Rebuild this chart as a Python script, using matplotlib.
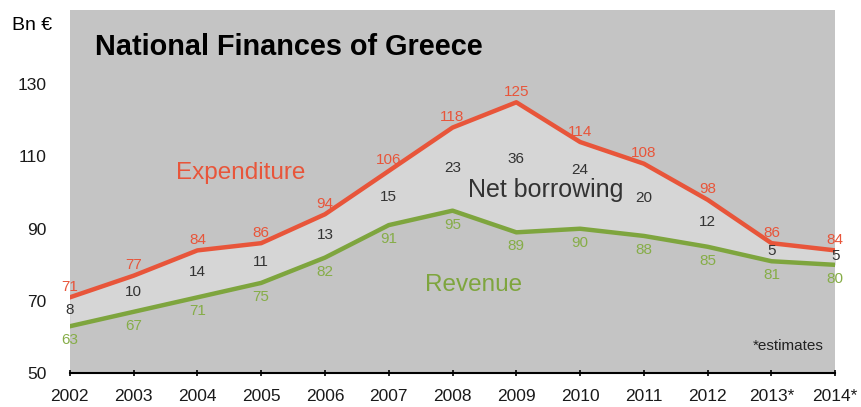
import matplotlib
matplotlib.use("Agg")
import matplotlib.pyplot as plt

plt.rcParams['font.family'] = ['Liberation Sans', 'DejaVu Sans']

years = ['2002', '2003', '2004', '2005', '2006', '2007', '2008',
         '2009', '2010', '2011', '2012', '2013*', '2014*']
expenditure = [71, 77, 84, 86, 94, 106, 118, 125, 114, 108, 98, 86, 84]
revenue = [63, 67, 71, 75, 82, 91, 95, 89, 90, 88, 85, 81, 80]
net_borrowing = [8, 10, 14, 11, 13, 15, 23, 36, 24, 20, 12, 5, 5]
y_ticks = [50, 70, 90, 110, 130]

RED = '#e8553a'
GREEN = '#7ea53e'
GREEN_TXT = '#86ad48'
BG = '#c4c4c4'
FILL = '#d6d6d6'

# a couple of net borrowing labels sit higher to clear the series label
nb_nudge = {7: 5, 8: 10}

fig = plt.figure(figsize=(8.62, 4.07), dpi=100)
ax = fig.add_axes([0.081, 0.083, 0.888, 0.892])
ax.set_facecolor(BG)

x = list(range(len(years)))
ax.fill_between(x, revenue, expenditure, color=FILL, lw=0)
ax.plot(x, expenditure, color=RED, lw=3.2)
ax.plot(x, revenue, color=GREEN, lw=3.2)

for i in x:
    ax.annotate(str(expenditure[i]), (i, expenditure[i]), xytext=(0, 2.5),
                textcoords='offset points', ha='center', va='bottom',
                color=RED, fontsize=11)
    ax.annotate(str(revenue[i]), (i, revenue[i]), xytext=(0, -5),
                textcoords='offset points', ha='center', va='top',
                color=GREEN_TXT, fontsize=11)
    ax.annotate(str(net_borrowing[i]), (i, (expenditure[i] + revenue[i]) / 2),
                xytext=(0, 1 + nb_nudge.get(i, 0)), textcoords='offset points',
                ha='center', va='center', color='#333333', fontsize=11)

ax.text(0.139, 0.551, 'Expenditure', transform=ax.transAxes, color=RED,
        fontsize=17.5, va='center')
ax.text(0.464, 0.242, 'Revenue', transform=ax.transAxes, color=GREEN,
        fontsize=17.5, va='center')
ax.text(0.52, 0.504, 'Net borrowing', transform=ax.transAxes, color='#333333',
        fontsize=18, va='center')
ax.text(0.033, 0.898, 'National Finances of Greece', transform=ax.transAxes,
        fontsize=20.8, fontweight='bold', va='center')
ax.text(0.985, 0.075, '*estimates', transform=ax.transAxes, fontsize=11,
        ha='right', va='center', color='#222222')

ax.set_xlim(0, len(years) - 1)
ax.set_ylim(50, 150.5)
ax.set_xticks(x)
ax.set_xticklabels(years, fontsize=12.5, color='#1a1a1a')
ax.set_yticks(y_ticks)
ax.set_yticklabels([str(v) for v in y_ticks], fontsize=12.5, color='#1a1a1a')
ax.tick_params(axis='y', length=0, pad=17)
ax.tick_params(axis='x', length=5, width=1.2, direction='inout', pad=9)
for side in ['top', 'right', 'left']:
    ax.spines[side].set_visible(False)
ax.spines['bottom'].set_linewidth(1.5)
ax.spines['bottom'].set_zorder(5)

fig.text(0.014, 0.937, 'Bn €', fontsize=14, va='center')

fig.savefig('out.png', dpi=100)
